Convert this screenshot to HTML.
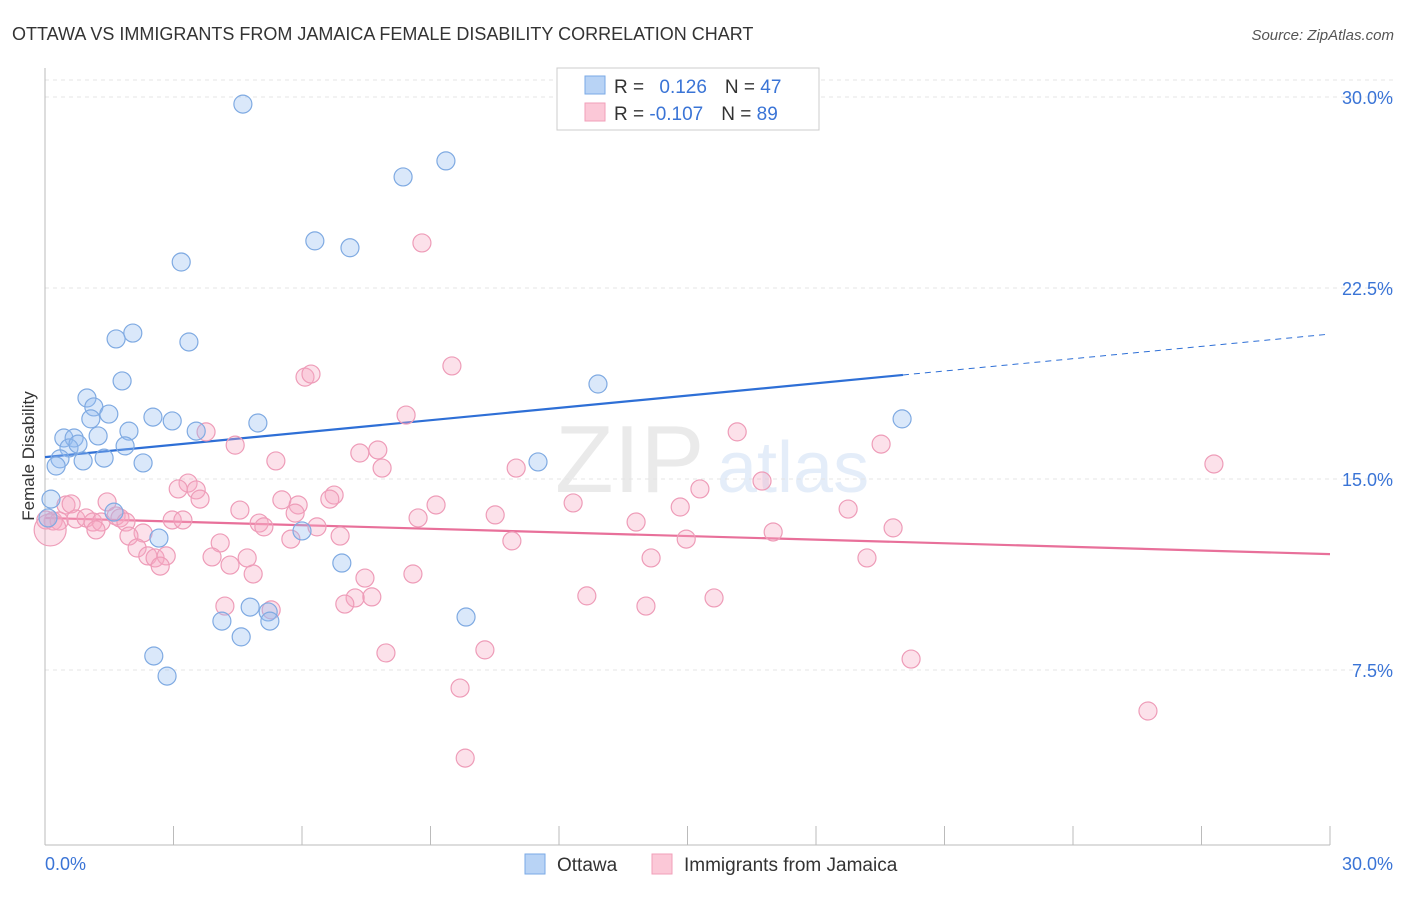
<!DOCTYPE html>
<html><head><meta charset="utf-8"><style>
body{margin:0;background:#fff;font-family:"Liberation Sans",sans-serif;}
svg text{font-family:"Liberation Sans",sans-serif;}
</style></head><body>
<svg id="chart" width="1406" height="892" xmlns="http://www.w3.org/2000/svg">
<text x="12" y="40" font-size="18" fill="#333">OTTAWA VS IMMIGRANTS FROM JAMAICA FEMALE DISABILITY CORRELATION CHART</text>
<text x="1394" y="40" font-size="15" fill="#555" text-anchor="end" font-style="italic">Source: ZipAtlas.com</text>
<g opacity="0.13">
<text x="555" y="492" font-size="96" fill="#666" font-family="Liberation Serif">ZIP</text>
<text x="717" y="492" font-size="72" fill="#3a7bd5">atlas</text>
</g>
<g id="grid"></g>
<g id="axes"></g>
<g id="trend"></g>
<g id="pts"></g>
<text transform="translate(34,456) rotate(-90)" font-size="17" fill="#333" text-anchor="middle">Female Disability</text>
<g>
<rect x="557" y="68" width="262" height="62" fill="#fff" stroke="#ccc"/>
<rect x="585" y="76" width="20" height="18" fill="#b8d3f5" stroke="#7aaae6"/>
<rect x="585" y="103" width="20" height="18" fill="#fbc8d7" stroke="#f19fb9"/>
<text x="614" y="93" font-size="19" fill="#333">R = <tspan fill="#3a74d6" dx="10">0.126</tspan><tspan dx="18" fill="#333">N = </tspan><tspan fill="#3a74d6">47</tspan></text>
<text x="614" y="120" font-size="19" fill="#333">R = <tspan fill="#3a74d6">-0.107</tspan><tspan dx="18" fill="#333">N = </tspan><tspan fill="#3a74d6">89</tspan></text>
</g>
<g>
<rect x="525" y="854" width="20" height="20" fill="#b8d3f5" stroke="#7aaae6"/>
<text x="557" y="871" font-size="19" fill="#333">Ottawa</text>
<rect x="652" y="854" width="20" height="20" fill="#fbc8d7" stroke="#f19fb9"/>
<text x="684" y="871" font-size="19" fill="#333">Immigrants from Jamaica</text>
</g>
</svg>
<script>
const yTicks=[30,22.5,15,7.5];
const yTickLabels=["30.0%","22.5%","15.0%","7.5%"];
const xTickLabels=["0.0%","30.0%"];
const ottawaX=[4.62,9.36,8.36,6.30,7.12,3.18,2.05,1.66,3.36,1.80,12.91,0.98,1.14,1.49,2.52,2.97,4.97,20.01,1.07,3.53,1.96,0.44,0.68,1.24,1.87,0.56,0.77,0.35,1.38,0.89,2.29,11.51,0.26,0.14,1.61,0.07,6.00,2.66,6.93,4.79,5.21,4.13,5.25,9.83,4.58,2.54,2.85];
const ottawaY=[29.72,27.49,26.86,24.35,24.08,23.52,20.73,20.50,20.38,18.85,18.73,18.18,17.83,17.55,17.43,17.28,17.20,17.36,17.36,16.88,16.88,16.61,16.61,16.69,16.30,16.22,16.37,15.79,15.82,15.71,15.63,15.67,15.51,14.21,13.70,13.47,12.96,12.68,11.70,9.97,9.78,9.42,9.42,9.58,8.80,8.05,7.26];
const jamX=[8.80,9.50,6.07,6.21,8.43,3.76,16.16,4.44,7.77,7.35,19.52,5.39,11.00,27.29,7.87,3.34,3.11,3.53,15.29,16.74,3.62,1.45,0.49,0.61,6.75,6.65,5.53,5.91,9.13,12.33,4.55,5.84,14.83,18.75,10.51,8.71,0.02,0.19,0.33,0.72,0.96,1.12,1.31,1.66,1.75,1.89,2.97,3.22,5.00,5.11,6.35,13.80,19.80,1.19,2.29,6.89,1.96,5.74,10.90,14.97,17.00,4.09,2.15,2.40,2.57,2.83,3.90,4.72,14.15,19.19,2.69,4.32,4.86,7.47,8.59,12.65,7.63,7.24,7.00,4.20,5.28,14.03,15.62,7.96,10.27,20.22,9.69,25.75,9.81];
const jamY=[24.27,19.44,19.00,19.12,17.51,16.85,16.85,16.33,16.14,16.02,16.37,15.71,15.43,15.59,15.43,14.84,14.61,14.57,14.61,14.92,14.21,14.10,13.98,14.02,14.37,14.21,14.18,13.98,13.98,14.06,13.78,13.66,13.90,13.82,13.59,13.47,13.39,13.35,13.35,13.43,13.47,13.31,13.31,13.55,13.47,13.31,13.39,13.39,13.27,13.12,13.12,13.31,13.08,13.00,12.88,12.76,12.76,12.64,12.57,12.64,12.92,12.49,12.29,11.98,11.90,11.98,11.94,11.90,11.90,11.90,11.58,11.62,11.27,11.11,11.27,10.41,10.37,10.33,10.09,10.01,9.86,10.01,10.33,8.17,8.29,7.93,6.79,5.89,4.04];
const ottawaTrend=[15.86,20.69];
const jamTrend=[13.47,12.05];
const X0=45,X1=1330,Y0=861,PXY=25.467;
const sx=v=>X0+(X1-X0)*v/30;
const sy=v=>Y0-v*PXY;
const NS="http://www.w3.org/2000/svg";
function mk(p,t,a){const e=document.createElementNS(NS,t);for(const k in a)e.setAttribute(k,a[k]);p.appendChild(e);return e;}
const grid=document.getElementById('grid'),axes=document.getElementById('axes'),trend=document.getElementById('trend'),pts=document.getElementById('pts');
mk(grid,'line',{x1:45,x2:1394,y1:80,y2:80,stroke:'#e4e4e4','stroke-dasharray':'4,4'});
yTicks.forEach((t,i)=>{
 const l=mk(grid,'line',{x1:45,x2:1394,y1:sy(t),y2:sy(t),stroke:'#e4e4e4','stroke-dasharray':'4,4'});
 
 
 const tx=mk(axes,'text',{x:1393,y:sy(t)+7,'font-size':18,fill:'#3a74d6','text-anchor':'end'});
 tx.textContent=yTickLabels[i];
 
 
});
mk(axes,'line',{x1:45,x2:45,y1:68,y2:845,stroke:'#bbb'});
mk(axes,'line',{x1:45,x2:1330,y1:845,y2:845,stroke:'#bbb'});
for(let i=0;i<=10;i++){const t=mk(axes,'line',{x1:sx(i*3),x2:sx(i*3),y1:826,y2:845,stroke:'#bbb'});
 
 }
const xl0=mk(axes,'text',{x:45,y:870,'font-size':18,fill:'#3a74d6'});xl0.textContent=xTickLabels[0];


const xl1=mk(axes,'text',{x:1393,y:870,'font-size':18,fill:'#3a74d6','text-anchor':'end'});xl1.textContent=xTickLabels[1];


function dot(x,y,c,s,r){const e=mk(pts,'circle',{cx:sx(x),cy:sy(y),r:r||9,fill:c,stroke:s,'stroke-width':1.2});return e;}
jamX.forEach((x,i)=>{const e=dot(x,jamY[i],'rgba(245,170,195,0.35)','#ee9cb8');
 
 });
const big=dot(0.12,13.0,'rgba(245,170,195,0.35)','#ee9cb8',16);


ottawaX.forEach((x,i)=>{const e=dot(x,ottawaY[i],'rgba(150,190,240,0.35)','#7faae2');
 
 });
const bAt=x=>ottawaTrend[0]+(ottawaTrend[1]-ottawaTrend[0])*x/30;
const l1=mk(trend,'line',{x1:sx(0),y1:sy(bAt(0)),x2:sx(20.03),y2:sy(bAt(20.03)),stroke:'#2e6fd6','stroke-width':2.2});


const l2=mk(trend,'line',{x1:sx(20.03),y1:sy(bAt(20.03)),x2:sx(30),y2:sy(bAt(30)),stroke:'#2e6fd6','stroke-width':1,'stroke-dasharray':'6,5'});


const l3=mk(trend,'line',{x1:sx(0),y1:sy(jamTrend[0]),x2:sx(30),y2:sy(jamTrend[1]),stroke:'#e8709a','stroke-width':2.2});


</script>
</body></html>
